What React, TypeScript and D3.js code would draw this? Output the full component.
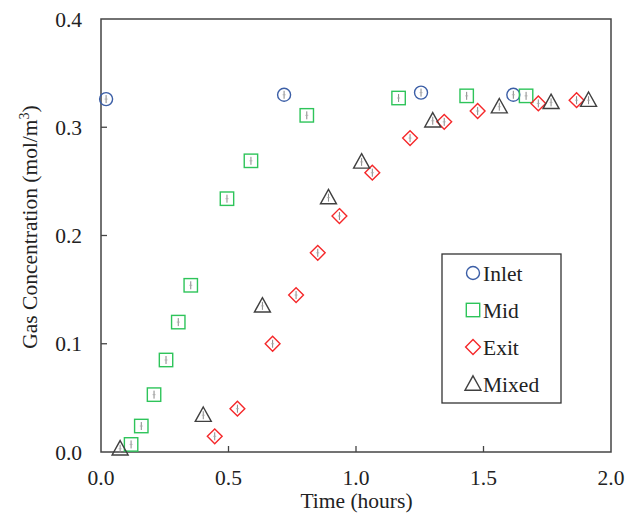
import React from "react";
import * as d3 from "d3";

const inletT = [0.02, 0.718, 1.255, 1.617];
const inletV = [0.326, 0.330, 0.332, 0.330];

const midT = [0.118, 0.158, 0.208, 0.255, 0.303, 0.352, 0.494, 0.588, 0.807, 1.167, 1.434, 1.667];
const midV = [0.007, 0.024, 0.053, 0.085, 0.120, 0.154, 0.234, 0.269, 0.311, 0.327, 0.329, 0.329];

const exitT = [0.446, 0.535, 0.673, 0.765, 0.850, 0.935, 1.064, 1.212, 1.346, 1.477, 1.715, 1.865];
const exitV = [0.0145, 0.040, 0.100, 0.145, 0.184, 0.218, 0.258, 0.290, 0.305, 0.315, 0.322, 0.325];

const mixedT = [0.075, 0.401, 0.633, 0.892, 1.022, 1.301, 1.562, 1.765, 1.912];
const mixedV = [0.003, 0.034, 0.135, 0.235, 0.268, 0.306, 0.319, 0.323, 0.325];

const xTicks = [0, 0.5, 1.0, 1.5, 2.0];
const yTicks = [0, 0.1, 0.2, 0.3, 0.4];

const legendLabels = ["Inlet", "Mid", "Exit", "Mixed"];

const W = 626, H = 515;
const left = 101, right = 611, top = 19, bottom = 452;
const font = "Liberation Serif, Times New Roman, DejaVu Serif, serif";
const fs = 21.5;

const colors = ["#3B5EA6", "#2EC45A", "#F5282A", "#404040"];

function Marker({ kind, x, y, err = true }: { kind: number; x: number; y: number; err?: boolean }) {
  const c = colors[kind];
  let shape: React.ReactNode = null;
  if (kind === 0) shape = <circle cx={x} cy={y} r={6.5} fill="none" stroke={c} strokeWidth={1.4} />;
  else if (kind === 1) shape = <rect x={x - 6.7} y={y - 6.7} width={13.4} height={13.4} fill="none" stroke={c} strokeWidth={1.4} />;
  else if (kind === 2) shape = <path d={`M${x},${y - 7.4}L${x + 7.4},${y}L${x},${y + 7.4}L${x - 7.4},${y}Z`} fill="none" stroke={c} strokeWidth={1.4} />;
  else shape = <path d={`M${x},${y - 8.2}L${x + 8},${y + 6.2}L${x - 8},${y + 6.2}Z`} fill="none" stroke={c} strokeWidth={1.4} />;
  return (
    <g>
      {err && <line x1={x} x2={x} y1={y - 4} y2={y + 4} stroke="#888" strokeWidth={1} />}
      {err && <line x1={x - 1.5} x2={x + 1.5} y1={y} y2={y} stroke="#aaa" strokeWidth={0.8} />}
      {shape}
    </g>
  );
}

export default function App() {
  const x = d3.scaleLinear().domain([0, 2]).range([left, right]);
  const y = d3.scaleLinear().domain([0, 0.4]).range([bottom, top]);
  const series = [
    [inletT, inletV],
    [midT, midV],
    [exitT, exitV],
    [mixedT, mixedV],
  ];
  const txt = { fontFamily: font, fontSize: fs, fill: "#222" } as React.CSSProperties;
  return (
    <svg width={W} height={H} style={{ position: "absolute", left: 0, top: 0, background: "#fff" }}>
      <rect x={0} y={0} width={W} height={H} fill="#fff" />
      <rect x={left} y={top} width={right - left} height={bottom - top} fill="none" stroke="#444" strokeWidth={1.5} />
      {xTicks.map((t, i) => (
        <g key={"xt" + i}>
          {i > 0 && i < xTicks.length - 1 && (
            <line x1={x(t)} x2={x(t)} y1={bottom} y2={bottom - 6} stroke="#444" strokeWidth={1.3} />
          )}
          <text x={x(t)} y={485} textAnchor="middle" style={txt}>
            {d3.format(".1f")(t)}
          </text>
        </g>
      ))}
      {yTicks.map((t, i) => (
        <g key={"yt" + i}>
          {i > 0 && i < yTicks.length - 1 && (
            <line x1={left} x2={left + 6} y1={y(t)} y2={y(t)} stroke="#444" strokeWidth={1.3} />
          )}
          <text x={82} y={y(t) + 7.5} textAnchor="end" style={txt}>
            {d3.format(".1f")(t)}
          </text>
        </g>
      ))}
      <text x={356.5} y={508} textAnchor="middle" style={txt}>
        Time (hours)
      </text>
      <text transform={`translate(37,227) rotate(-90)`} textAnchor="middle" style={txt}>
        Gas Concentration (mol/m
        <tspan dy={-8} style={{ fontSize: 14 }}>3</tspan>
        <tspan dy={8}>)</tspan>
      </text>
      {series.map(([ts, vs], k) => (
        <g key={"s" + k}>
          {ts.map((t, i) => (
            <Marker key={i} kind={k} x={x(t)} y={y(vs[i])} />
          ))}
        </g>
      ))}
      <rect x={442} y={254} width={119} height={149} fill="#fff" stroke="#333" strokeWidth={1.3} />
      {legendLabels.map((l, i) => {
        const ly = 273 + i * 37;
        return (
          <g key={"lg" + i}>
            <Marker kind={i} x={473} y={ly} err={false} />
            <text x={483} y={ly + 7.5} style={txt}>
              {l}
            </text>
          </g>
        );
      })}
    </svg>
  );
}
